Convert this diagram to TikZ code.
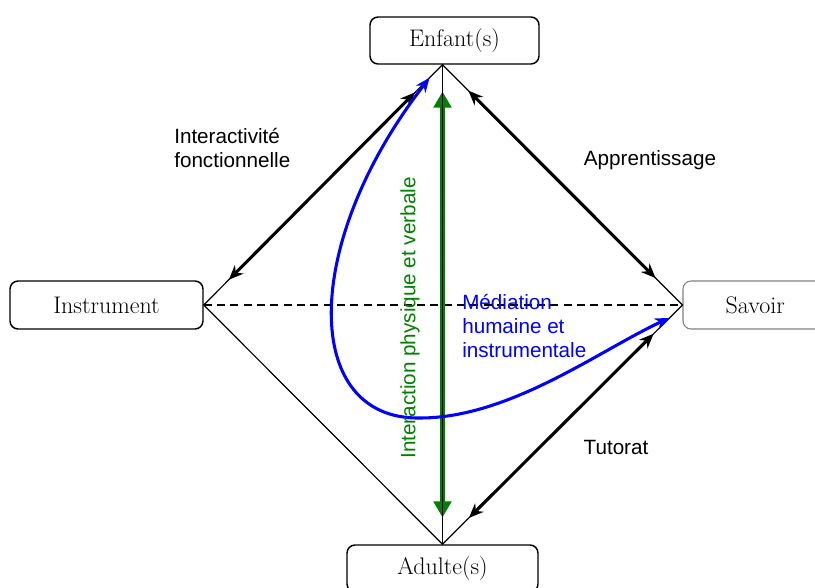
\documentclass[tikz,border=0pt]{standalone}
\usepackage{fontspec}
\newfontfamily\sansfont{Liberation Sans}
\usetikzlibrary{calc,arrows.meta,positioning}

\begin{document}
\begin{tikzpicture}[x=0.75pt,y=-0.75pt,
  pole/.style={draw,rounded corners=6pt,line width=1.1pt,inner sep=0pt,font=\fontsize{18}{21}\selectfont},
  edge/.style={line width=0.9pt},
  biarrow/.style={line width=2.3pt,{Stealth[length=11pt,width=9pt]}-{Stealth[length=11pt,width=9pt]}},
  lab/.style={inner sep=0pt,align=left,font=\sansfont\fontsize{15.5}{18}\selectfont}]

\useasboundingbox (0,0) rectangle (815,588);

\node[pole,minimum width=126.75pt,minimum height=35.25pt] (enfant) at (454.5,40.5) {Enfant(s)};
\node[pole,minimum width=144.75pt,minimum height=36pt] (instrument) at (106.5,305) {Instrument};
\node[pole,draw=gray,line width=0.8pt,minimum width=110.25pt,minimum height=36pt,text depth=0pt] (savoir) at (756.5,305) {\hspace*{-2pt}Savoir};
\node[pole,minimum width=143.25pt,minimum height=35.25pt] (adulte) at (442.5,568.5) {Adulte(s)};

\coordinate (top) at (adulte.north |- enfant.south);

% losange
\draw[edge] (top)--(instrument.east)--(adulte.north)--(savoir.west)--cycle;
\draw[edge,dashed,dash pattern=on 6pt off 4pt] (instrument.east)--(savoir.west);

\draw[green!50!black,line width=3.6pt,{Triangle[length=12pt,width=13pt]}-{Triangle[length=12pt,width=13pt]}]
  ($(top)!0.056!(adulte.north)$)--($(top)!0.944!(adulte.north)$);
\draw[edge] (top)--(adulte.north);

\draw[biarrow] ($(top)!0.115!(instrument.east)$)--($(top)!0.895!(instrument.east)$);
\draw[biarrow] ($(top)!0.108!(savoir.west)$)--($(top)!0.888!(savoir.west)$);
\draw[biarrow] ($(adulte.north)!0.11!(savoir.west)$)--($(adulte.north)!0.88!(savoir.west)$);

\coordinate (bt) at ($(top)!0.054!(instrument.east)$);
\coordinate (br) at ($(savoir.west)!0.054!(adulte.north)$);
\draw[blue,line width=2.3pt,{Stealth[length=11pt,width=9pt]}-{Stealth[length=11pt,width=9pt]}]
  (br).. controls (600,350) and (510,418) .. (420,418).. controls (302,420) and (300,245) .. (bt);

\node[lab,anchor=west] (interact) at (174,148) {Interactivité\\fonctionnelle};
\node[lab] (apprent) at (650,160) {Apprentissage};
\node[lab] (tutorat) at (616,447) {Tutorat};
\node[lab,blue,anchor=west] (mediation) at (462,326) {Médiation\\humaine et\\instrumentale};
\node[lab,green!50!black,rotate=90] (interaction) at (410,318) {Interaction physique et verbale};

\end{tikzpicture}
\end{document}
